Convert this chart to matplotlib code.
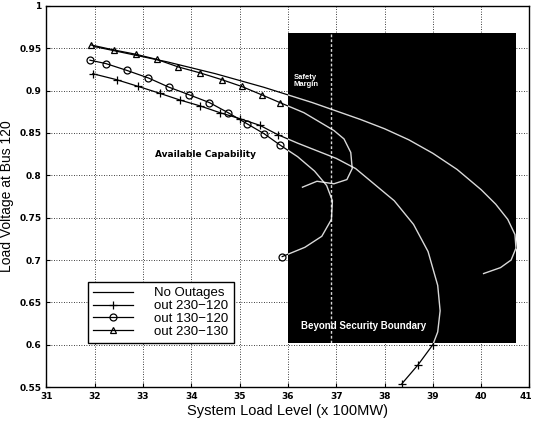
import matplotlib
matplotlib.use("Agg")
import matplotlib.pyplot as plt
from matplotlib.patches import Rectangle
from matplotlib.transforms import ScaledTranslation

# System load level (x 100MW) and load voltage at bus 120 for each case
load_no_outage = [32.0, 32.5, 33.0, 33.5, 34.0, 34.5, 35.0, 35.5, 36.0, 36.5, 37.0, 37.5, 38.0,
                  38.5, 39.0, 39.5, 40.0, 40.3, 40.55, 40.7, 40.72, 40.62, 40.4, 40.05]
volt_no_outage = [0.952, 0.946, 0.940, 0.934, 0.927, 0.920, 0.912, 0.904, 0.895, 0.886, 0.876,
                  0.866, 0.855, 0.842, 0.826, 0.807, 0.783, 0.766, 0.748, 0.730, 0.714, 0.700,
                  0.691, 0.684]

load_230_120 = [31.96, 32.45, 32.9, 33.34, 33.76, 34.18, 34.59, 35.0, 35.42, 35.79, 36.2, 36.6,
                37.0, 37.4, 37.8, 38.2, 38.6, 38.9, 39.1, 39.15, 39.1, 39.0, 38.69, 38.36]
volt_230_120 = [0.920, 0.913, 0.905, 0.897, 0.889, 0.882, 0.874, 0.867, 0.859, 0.848, 0.838,
                0.829, 0.820, 0.808, 0.789, 0.770, 0.742, 0.710, 0.670, 0.640, 0.615, 0.600,
                0.576, 0.554]

load_130_120 = [31.9, 32.23, 32.66, 33.11, 33.54, 33.96, 34.37, 34.76, 35.15, 35.51, 35.83,
                36.2, 36.55, 36.8, 36.92, 36.9, 36.7, 36.35, 35.88]
volt_130_120 = [0.936, 0.932, 0.924, 0.915, 0.904, 0.895, 0.886, 0.874, 0.861, 0.849, 0.836,
                0.822, 0.805, 0.788, 0.770, 0.748, 0.728, 0.715, 0.704]

load_230_130 = [31.92, 32.4, 32.85, 33.28, 33.73, 34.18, 34.63, 35.04, 35.46, 35.83, 36.33,
                36.95, 37.16, 37.3, 37.33, 37.22, 36.95, 36.6, 36.3]
volt_230_130 = [0.954, 0.948, 0.943, 0.937, 0.928, 0.921, 0.913, 0.905, 0.895, 0.886, 0.874,
                0.853, 0.843, 0.827, 0.808, 0.795, 0.790, 0.793, 0.786]

security_limit = 36.9
x_ticks = [31, 32, 33, 34, 35, 36, 37, 38, 39, 40, 41]
y_ticks = [0.55, 0.6, 0.65, 0.7, 0.75, 0.8, 0.85, 0.9, 0.95, 1.0]
y_tick_labels = ["0.55", "0.6", "0.65", "0.7", "0.75", "0.8", "0.85", "0.9", "0.95", "1"]

sans = ["Liberation Sans", "DejaVu Sans"]

fig = plt.figure(figsize=(5.33, 4.25), dpi=100)
ax = fig.add_axes([0.0872, 0.0894, 0.9062, 0.8965])

series = [
    (load_no_outage, volt_no_outage, "", "No Outages"),
    (load_230_120, volt_230_120, "+", "out 230\u2212120"),
    (load_130_120, volt_130_120, "o", "out 130\u2212120"),
    (load_230_130, volt_230_130, "^", "out 230\u2212130"),
]

# Shaded region beyond the security boundary
rx0, rx1, ry0, ry1 = 36.0, 40.72, 0.602, 0.968
shade = Rectangle((rx0, ry0), rx1 - rx0, ry1 - ry0, facecolor="black",
                  edgecolor="none", zorder=5)
ax.add_patch(shade)

for x, y, m, lab in series:
    ax.plot(x, y, color="black", lw=0.9, marker=m if m else None, ms=6 if m == "+" else 5,
            mfc="none", mec="black", mew=0.9, label=lab, zorder=3)
    inner, = ax.plot(x, y, color="white", lw=1.0, alpha=0.85, zorder=6)
    inner.set_clip_path(shade)

ax.plot([security_limit, security_limit], [ry0, ry1], color="white", lw=1.0,
        ls=(0, (2, 1.5)), alpha=0.85, zorder=6)

ax.text(36.12, 0.905, "Safety\nMargin", color="white", fontsize=5.5, fontweight="bold",
        family=sans, zorder=7, linespacing=1.0)
ax.text(36.27, 0.622, "Beyond Security Boundary", color="white", fontsize=7,
        fontweight="bold", family=sans, va="center", zorder=7)
ax.text(34.3, 0.825, "Available Capability", color="black", fontsize=6.5,
        fontweight="bold", ha="center", va="center", zorder=4)

ax.set_xlim(31, 41)
ax.set_ylim(0.55, 1.0)
ax.set_xticks(x_ticks)
ax.set_xticklabels([str(t) for t in x_ticks])
ax.set_yticks(y_ticks)
ax.set_yticklabels(y_tick_labels)
ax.tick_params(direction="in", length=3, labelsize=6.5, width=0.8)
for lbl in ax.get_xticklabels() + ax.get_yticklabels():
    lbl.set_fontweight("bold")
# keep the last x tick label inside the figure edge
last = ax.get_xticklabels()[-1]
last.set_transform(last.get_transform() + ScaledTranslation(-4 / 100, 0, fig.dpi_scale_trans))
ax.grid(True, color="black", ls=(0, (1, 2)), lw=0.6)
for s in ax.spines.values():
    s.set_linewidth(1.0)

ax.set_xlabel("System Load Level (x 100MW)", fontsize=10.5, family=sans, labelpad=2)
ax.set_ylabel("Load Voltage at Bus 120", fontsize=10, family=sans)
ax.yaxis.set_label_coords(-0.068, 0.5)

leg = ax.legend(loc="lower left", bbox_to_anchor=(0.086, 0.115),
                prop={"family": sans, "size": 9.5}, handlelength=3.0, labelspacing=0.05,
                borderpad=0.4, handletextpad=1.6, fancybox=False, framealpha=1,
                edgecolor="black", borderaxespad=0)
leg.get_frame().set_linewidth(1.0)
leg.set_zorder(8)

fig.savefig("out.png", dpi=100)
